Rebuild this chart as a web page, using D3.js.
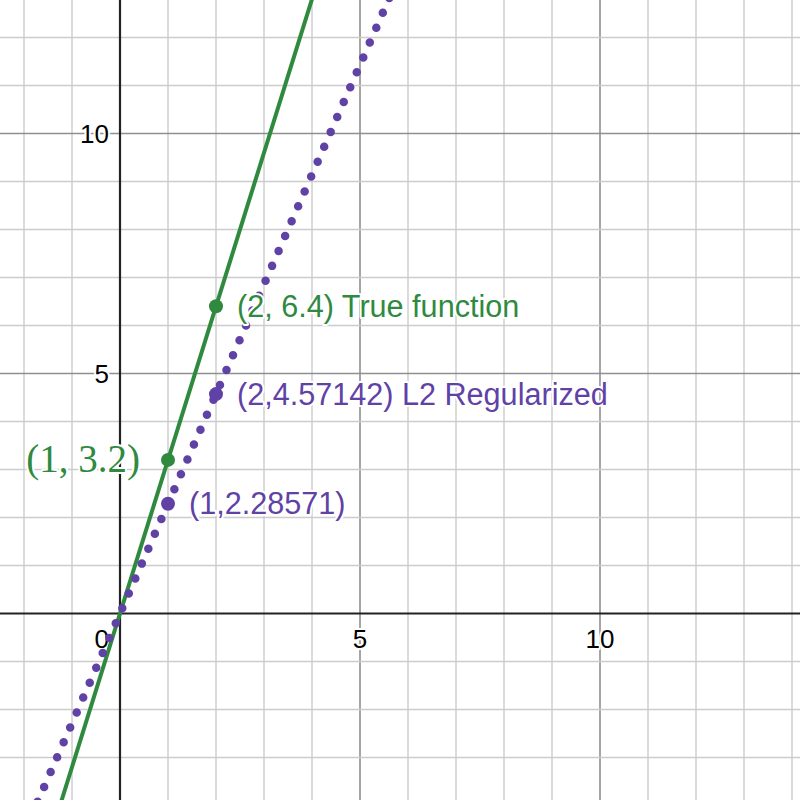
<!DOCTYPE html>
<html>
<head>
<meta charset="utf-8">
<script src="https://cdn.jsdelivr.net/npm/d3@7"></script>
<style>
  html, body { margin: 0; padding: 0; background: #fff; }
  svg { display: block; }
</style>
</head>
<body>
<div id="chart"></div>
<script>
// view window (graph units)
const xView = [-2.5, 14.1667];
const yView = [-3.885, 12.781];

// axis tick labels
const xTickValues = [0, 5, 10];
const yTickValues = [5, 10];

// the two fitted lines, given by their labelled points
const truePoints = [[1, 3.2], [2, 6.4]];
const trueLabels = ["(1, 3.2)", "(2, 6.4) True function"];
const l2Points = [[1, 2.28571], [2, 4.57142]];
const l2Labels = ["(1,2.28571)", "(2,4.57142) L2 Regularized"];

const GREEN = "#2f8a3f";
const PURPLE = "#6042a6";

const width = 800, height = 800;

const svg = d3.select("#chart").append("svg")
  .attr("width", width)
  .attr("height", height);

const x = d3.scaleLinear().domain(xView).range([0, width]);
const y = d3.scaleLinear().domain(yView).range([height, 0]);

// --- Grid ---
const gridX = d3.range(Math.ceil(xView[0]), Math.floor(xView[1]) + 1);
const gridY = d3.range(Math.ceil(yView[0]), Math.floor(yView[1]) + 1);

const grid = svg.append("g");
grid.selectAll(".gx")
  .data(gridX.filter(d => d !== 0))
  .join("line")
  .attr("x1", d => x(d)).attr("x2", d => x(d))
  .attr("y1", 0).attr("y2", height)
  .attr("stroke", d => d % 5 === 0 ? "#8f8f8f" : "#cccccc")
  .attr("stroke-width", d => d % 5 === 0 ? 1.6 : 1.4);

grid.selectAll(".gy")
  .data(gridY.filter(d => d !== 0))
  .join("line")
  .attr("y1", d => y(d)).attr("y2", d => y(d))
  .attr("x1", 0).attr("x2", width)
  .attr("stroke", d => d % 5 === 0 ? "#8f8f8f" : "#cccccc")
  .attr("stroke-width", d => d % 5 === 0 ? 1.6 : 1.4);

// --- Axes ---
svg.append("line")
  .attr("x1", 0).attr("x2", width)
  .attr("y1", y(0)).attr("y2", y(0))
  .attr("stroke", "#222").attr("stroke-width", 2.2);
svg.append("line")
  .attr("x1", x(0)).attr("x2", x(0))
  .attr("y1", 0).attr("y2", height)
  .attr("stroke", "#222").attr("stroke-width", 2.2);

// halo text helper (white outline like the graphing tool)
function haloText(sel) {
  return sel.attr("paint-order", "stroke")
    .attr("stroke", "#fff")
    .attr("stroke-width", 4)
    .attr("stroke-linejoin", "round");
}

const tickFont = "'Liberation Sans', Arial, Helvetica, sans-serif";

svg.append("g").selectAll("text")
  .data(xTickValues)
  .join("text")
  .attr("x", d => d === 0 ? x(0) - 11 : x(d))
  .attr("y", y(0) + 34)
  .attr("text-anchor", d => d === 0 ? "end" : "middle")
  .attr("font-family", tickFont)
  .attr("font-size", 26)
  .attr("fill", "#000")
  .text(d => d)
  .call(haloText);

svg.append("g").selectAll("text")
  .data(yTickValues)
  .join("text")
  .attr("x", x(0) - 11)
  .attr("y", d => y(d) + 9.5)
  .attr("text-anchor", "end")
  .attr("font-family", tickFont)
  .attr("font-size", 26)
  .attr("fill", "#000")
  .text(d => d)
  .call(haloText);

// --- Lines through the origin ---
const slopeOf = pts => pts[1][1] / pts[1][0];
const lineGen = d3.line().x(d => x(d[0])).y(d => y(d[1]));
const lineData = pts => xView.map(v => [v, slopeOf(pts) * v]);

svg.append("defs").append("clipPath").attr("id", "clip")
  .append("rect").attr("width", width).attr("height", height);

const plot = svg.append("g").attr("clip-path", "url(#clip)");

plot.append("path")
  .datum(lineData(truePoints))
  .attr("d", lineGen)
  .attr("fill", "none")
  .attr("stroke", GREEN)
  .attr("stroke-width", 4);

plot.append("path")
  .datum(lineData(l2Points))
  .attr("d", lineGen)
  .attr("fill", "none")
  .attr("stroke", PURPLE)
  .attr("stroke-width", 8.5)
  .attr("stroke-linecap", "round")
  .attr("stroke-dasharray", "0 16.25")
  .attr("stroke-dashoffset", -12.6);

// --- Points ---
plot.selectAll(".pt-true")
  .data(truePoints)
  .join("circle")
  .attr("cx", d => x(d[0])).attr("cy", d => y(d[1]))
  .attr("r", 7)
  .attr("fill", GREEN);

plot.selectAll(".pt-l2")
  .data(l2Points)
  .join("circle")
  .attr("cx", d => x(d[0])).attr("cy", d => y(d[1]))
  .attr("r", 7)
  .attr("fill", PURPLE);

// --- Labels ---
const labelFont = "'Liberation Sans', Arial, Helvetica, sans-serif";

// first green label: math style, to the left of the point
svg.append("text")
  .attr("x", x(truePoints[0][0]) - 28)
  .attr("y", y(truePoints[0][1]) + 12.5)
  .attr("text-anchor", "end")
  .attr("font-family", "'Liberation Serif', 'Times New Roman', serif")
  .attr("font-size", 39)
  .attr("fill", GREEN)
  .text(trueLabels[0])
  .call(haloText);

svg.append("text")
  .attr("x", x(truePoints[1][0]) + 21)
  .attr("y", y(truePoints[1][1]) + 10.5)
  .attr("font-family", labelFont)
  .attr("font-size", 30.6)
  .attr("fill", GREEN)
  .text(trueLabels[1])
  .call(haloText);

svg.selectAll(".lbl-l2")
  .data(l2Points)
  .join("text")
  .attr("x", d => x(d[0]) + 21)
  .attr("y", d => y(d[1]) + 10.5)
  .attr("font-family", labelFont)
  .attr("font-size", 30.6)
  .attr("fill", PURPLE)
  .text((d, i) => l2Labels[i])
  .call(haloText);
</script>
</body>
</html>
